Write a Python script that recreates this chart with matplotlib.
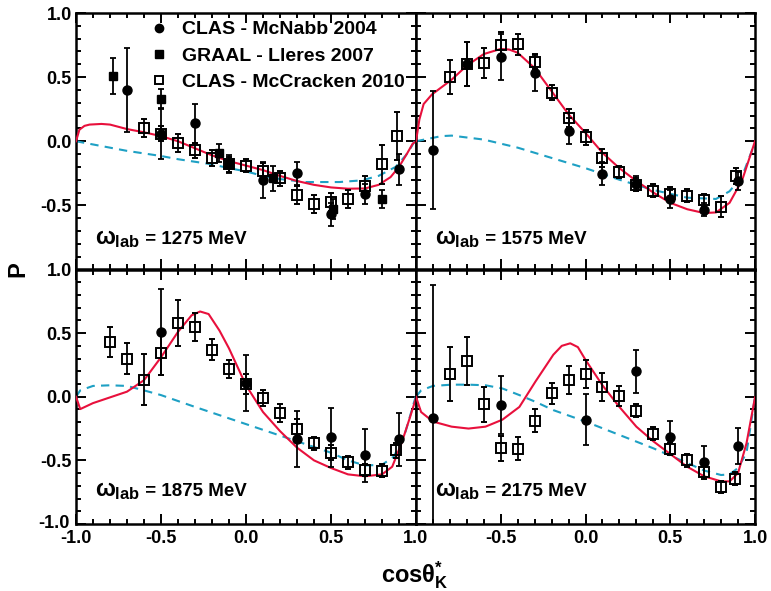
import matplotlib
matplotlib.use("Agg")
import matplotlib.pyplot as plt
from matplotlib.lines import Line2D
from matplotlib.ticker import MultipleLocator, FuncFormatter
from matplotlib.transforms import offset_copy

plt.rcParams['font.family'] = ['Liberation Sans', 'DejaVu Sans']
plt.rcParams['font.weight'] = 'bold'
plt.rcParams['mathtext.fontset'] = 'custom'
plt.rcParams['mathtext.rm'] = 'Liberation Sans:bold'
plt.rcParams['mathtext.bf'] = 'Liberation Sans:bold'
plt.rcParams['mathtext.it'] = 'Liberation Sans:bold'

energies = ["1275", "1575", "1875", "2175"]

# ---------------- 1275 MeV ----------------
mcnabb_1275_x = [-0.7, -0.5, -0.3, 0.1, 0.3, 0.5, 0.7, 0.9]
mcnabb_1275_y = [0.40, 0.06, 0.14, -0.30, -0.25, -0.57, -0.41, -0.22]
mcnabb_1275_e = [0.33, 0.20, 0.15, 0.14, 0.09, 0.09, 0.08, 0.12]

graal_1275_x = [-0.78, -0.5, -0.16, -0.1, 0.16, 0.51, 0.8]
graal_1275_y = [0.51, 0.33, -0.09, -0.18, -0.29, -0.53, -0.45]
graal_1275_e = [0.14, 0.08, 0.07, 0.07, 0.10, 0.08, 0.07]

mccr_1275_x = [-0.6, -0.5, -0.4, -0.3, -0.2, -0.1, 0.0, 0.1, 0.2, 0.3, 0.4, 0.5, 0.6, 0.7, 0.8, 0.89]
mccr_1275_y = [0.10, 0.06, -0.01, -0.07, -0.13, -0.18, -0.19, -0.23, -0.29, -0.42, -0.49, -0.47, -0.45, -0.35, -0.18, 0.04]
mccr_1275_e = [0.07, 0.06, 0.07, 0.06, 0.06, 0.06, 0.05, 0.06, 0.06, 0.07, 0.07, 0.07, 0.07, 0.08, 0.15, 0.19]

red_1275_x = [-1.0, -0.98, -0.95, -0.92, -0.85, -0.8, -0.7, -0.6, -0.5, -0.4, -0.3, -0.2, -0.1, 0.0, 0.1, 0.2,
              0.3, 0.4, 0.5, 0.6, 0.7, 0.78, 0.85, 0.9, 0.95, 0.98, 1.0]
red_1275_y = [0.0, 0.09, 0.12, 0.13, 0.135, 0.13, 0.095, 0.07, 0.04, 0.0, -0.055, -0.11, -0.155, -0.19, -0.225, -0.27,
              -0.31, -0.34, -0.36, -0.37, -0.368, -0.34, -0.28, -0.2, -0.09, -0.02, 0.0]
cyan_1275_x = [-1.0, -0.9, -0.8, -0.7, -0.6, -0.5, -0.4, -0.3, -0.2, -0.1, 0.0, 0.1, 0.2, 0.35, 0.55, 0.68,
               0.78, 0.88, 0.94, 0.97, 1.0]
cyan_1275_y = [0.0, -0.025, -0.05, -0.075, -0.095, -0.115, -0.14, -0.16, -0.18, -0.21, -0.235, -0.27, -0.295,
               -0.318, -0.318, -0.305, -0.27, -0.20, -0.11, -0.05, 0.02]

# ---------------- 1575 MeV ----------------
mcnabb_1575_x = [-0.9, -0.7, -0.5, -0.3, -0.1, 0.1, 0.3, 0.5, 0.7, 0.9]
mcnabb_1575_y = [-0.07, 0.60, 0.66, 0.53, 0.08, -0.255, -0.33, -0.45, -0.535, -0.31]
mcnabb_1575_e = [0.46, 0.17, 0.18, 0.14, 0.10, 0.09, 0.06, 0.07, 0.05, 0.07]

mccr_1575_x = [-0.8, -0.7, -0.6, -0.5, -0.4, -0.3, -0.2, -0.1, 0.0, 0.1, 0.2, 0.3, 0.4, 0.5, 0.6, 0.7, 0.8, 0.89]
mccr_1575_y = [0.50, 0.60, 0.61, 0.75, 0.755, 0.62, 0.38, 0.18, 0.03, -0.13, -0.24, -0.34, -0.385, -0.41, -0.425,
               -0.46, -0.51, -0.27]
mccr_1575_e = [0.13, 0.17, 0.12, 0.10, 0.08, 0.06, 0.06, 0.07, 0.06, 0.07, 0.05, 0.05, 0.05, 0.05, 0.05, 0.05,
               0.08, 0.06]

red_1575_x = [-1.0, -0.98, -0.955, -0.906, -0.79, -0.7, -0.6, -0.5, -0.45, -0.4, -0.3, -0.2, -0.1, 0.0, 0.1, 0.2,
              0.3, 0.4, 0.5, 0.6, 0.7, 0.77, 0.85, 0.925, 1.0]
red_1575_y = [0.0, 0.17, 0.29, 0.365, 0.48, 0.59, 0.68, 0.72, 0.715, 0.69, 0.57, 0.39, 0.21, 0.065, -0.09, -0.21,
              -0.31, -0.40, -0.48, -0.53, -0.56, -0.555, -0.48, -0.30, 0.0]
cyan_1575_x = [-1.0, -0.85, -0.79, -0.6, -0.4, -0.2, 0.0, 0.2, 0.4, 0.6, 0.77, 0.85, 0.925, 1.0]
cyan_1575_y = [0.0, 0.04, 0.044, 0.013, -0.05, -0.13, -0.21, -0.30, -0.38, -0.44, -0.45, -0.39, -0.27, -0.01]

# ---------------- 1875 MeV ----------------
mcnabb_1875_x = [-0.5, 0.0, 0.3, 0.5, 0.7, 0.9]
mcnabb_1875_y = [0.51, 0.11, -0.33, -0.32, -0.46, -0.335]
mcnabb_1875_e = [0.34, 0.22, 0.22, 0.235, 0.21, 0.21]

mccr_1875_x = [-0.8, -0.7, -0.6, -0.5, -0.4, -0.3, -0.2, -0.1, 0.0, 0.1, 0.2, 0.3, 0.4, 0.5, 0.6, 0.7, 0.8, 0.88]
mccr_1875_y = [0.43, 0.30, 0.135, 0.34, 0.58, 0.55, 0.37, 0.22, 0.10, -0.01, -0.125, -0.255, -0.365, -0.44,
               -0.515, -0.575, -0.58, -0.42]
mccr_1875_e = [0.12, 0.12, 0.20, 0.17, 0.18, 0.11, 0.08, 0.07, 0.08, 0.06, 0.07, 0.08, 0.05, 0.06, 0.05, 0.05,
               0.05, 0.06]

red_1875_x = [-1.0, -0.975, -0.9, -0.8, -0.7, -0.6, -0.5, -0.4, -0.32, -0.27, -0.22, -0.156, -0.1, 0.0, 0.1, 0.2,
              0.3, 0.4, 0.5, 0.6, 0.7, 0.8, 0.86, 0.915, 0.965, 1.0]
red_1875_y = [0.0, -0.097, -0.05, -0.005, 0.04, 0.13, 0.31, 0.51, 0.64, 0.67, 0.65, 0.52, 0.38, 0.09, -0.12, -0.27,
              -0.40, -0.50, -0.56, -0.61, -0.625, -0.61, -0.55, -0.365, -0.16, -0.01]
cyan_1875_x = [-1.0, -0.975, -0.9, -0.8, -0.7, -0.6, -0.5, -0.3, -0.1, 0.1, 0.3, 0.5, 0.6, 0.7, 0.8, 0.87,
               0.935, 1.0]
cyan_1875_y = [0.0, 0.05, 0.085, 0.09, 0.085, 0.05, 0.013, -0.08, -0.17, -0.26, -0.35, -0.44, -0.50, -0.54,
               -0.535, -0.47, -0.29, 0.01]

# ---------------- 2175 MeV ----------------
mcnabb_2175_x = [-0.9, -0.5, 0.0, 0.3, 0.5, 0.7, 0.9]
mcnabb_2175_y = [-0.165, -0.065, -0.18, 0.20, -0.32, -0.51, -0.385]
mcnabb_2175_e = [1.04, 0.23, 0.20, 0.17, 0.13, 0.12, 0.14]

mccr_2175_x = [-0.8, -0.7, -0.6, -0.5, -0.4, -0.3, -0.2, -0.1, 0.0, 0.1, 0.2, 0.3, 0.4, 0.5, 0.6, 0.7, 0.8, 0.88]
mccr_2175_y = [0.18, 0.28, -0.06, -0.405, -0.41, -0.19, 0.026, 0.13, 0.18, 0.073, 0.005, -0.11, -0.29, -0.41,
               -0.50, -0.595, -0.71, -0.645]
mccr_2175_e = [0.21, 0.19, 0.14, 0.10, 0.09, 0.09, 0.085, 0.11, 0.11, 0.11, 0.08, 0.05, 0.05, 0.05, 0.05, 0.05,
               0.05, 0.05]

red_2175_x = [-1.0, -0.97, -0.9, -0.79, -0.69, -0.59, -0.49, -0.39, -0.295, -0.19, -0.14, -0.09, -0.045, 0.0,
              0.1, 0.2, 0.3, 0.4, 0.5, 0.6, 0.7, 0.8, 0.85, 0.9, 0.95, 1.0]
red_2175_y = [0.0, -0.12, -0.195, -0.235, -0.25, -0.235, -0.18, -0.08, 0.12, 0.33, 0.40, 0.42, 0.39, 0.29,
              0.09, -0.08, -0.235, -0.35, -0.45, -0.55, -0.625, -0.665, -0.665, -0.60, -0.365, -0.005]
cyan_2175_x = [-1.0, -0.97, -0.9, -0.79, -0.69, -0.59, -0.49, -0.39, -0.295, -0.19, 0.0, 0.2, 0.4, 0.6, 0.7,
               0.8, 0.85, 0.9, 0.95, 1.0]
cyan_2175_y = [0.0, 0.05, 0.085, 0.095, 0.095, 0.09, 0.065, 0.013, -0.04, -0.105, -0.195, -0.30, -0.405, -0.52,
               -0.58, -0.615, -0.61, -0.56, -0.44, 0.0]

panels = [
    dict(e="1275", mcn=(mcnabb_1275_x, mcnabb_1275_y, mcnabb_1275_e),
         gr=(graal_1275_x, graal_1275_y, graal_1275_e),
         mcc=(mccr_1275_x, mccr_1275_y, mccr_1275_e),
         red=(red_1275_x, red_1275_y), cyan=(cyan_1275_x, cyan_1275_y)),
    dict(e="1575", mcn=(mcnabb_1575_x, mcnabb_1575_y, mcnabb_1575_e), gr=None,
         mcc=(mccr_1575_x, mccr_1575_y, mccr_1575_e),
         red=(red_1575_x, red_1575_y), cyan=(cyan_1575_x, cyan_1575_y)),
    dict(e="1875", mcn=(mcnabb_1875_x, mcnabb_1875_y, mcnabb_1875_e), gr=None,
         mcc=(mccr_1875_x, mccr_1875_y, mccr_1875_e),
         red=(red_1875_x, red_1875_y), cyan=(cyan_1875_x, cyan_1875_y)),
    dict(e="2175", mcn=(mcnabb_2175_x, mcnabb_2175_y, mcnabb_2175_e), gr=None,
         mcc=(mccr_2175_x, mccr_2175_y, mccr_2175_e),
         red=(red_2175_x, red_2175_y), cyan=(cyan_2175_x, cyan_2175_y)),
]

RED = '#e8103c'
CYAN = '#1ea0c4'

W, H = 771, 591
fig = plt.figure(figsize=(W / 100, H / 100), dpi=100)

xl = [76 / W, 416 / W]
xw = [340 / W, 339 / W]
yb = [1 - 269.5 / H, 1 - 524 / H]
yh = [256.5 / H, 254.5 / H]

fmt = FuncFormatter(lambda v, p: f"{v:.1f}".replace("\u2212", "-") if abs(v) > 1e-9 else "0.0")

axes = []
omega_texts = []
for i, pdat in enumerate(panels):
    r, c = divmod(i, 2)
    ax = fig.add_axes([xl[c], yb[r], xw[c], yh[r]])
    axes.append(ax)
    ax.set_xlim(-1, 1)
    ax.set_ylim(-1, 1)

    ax.plot(*pdat['cyan'], color=CYAN, lw=1.5, ls=(0, (4, 3)), zorder=2)
    ax.plot(*pdat['red'], color=RED, lw=1.5, zorder=3)

    ebkw = dict(ecolor='black', elinewidth=1.3, capsize=2, capthick=1.3, ls='none', zorder=4)
    mx, my, me = pdat['mcn']
    ax.errorbar(mx, my, yerr=me, fmt='o', mfc='black', mec='black', ms=6.5, **ebkw)
    if pdat['gr'] is not None:
        gx, gy, ge = pdat['gr']
        ax.errorbar(gx, gy, yerr=ge, fmt='s', mfc='black', mec='black', ms=6, **ebkw)
    cx, cy, ce = pdat['mcc']
    ax.errorbar(cx, cy, yerr=ce, fmt='s', mfc='none', mec='black', mew=1.4, ms=6.5, **ebkw)

    ax.xaxis.set_major_locator(MultipleLocator(0.5))
    ax.xaxis.set_minor_locator(MultipleLocator(0.1))
    ax.yaxis.set_major_locator(MultipleLocator(0.5))
    ax.yaxis.set_minor_locator(MultipleLocator(0.1))
    ax.tick_params(which='both', direction='in', top=True, right=True, width=1.4)
    ax.tick_params(which='major', length=7)
    ax.tick_params(which='minor', length=3.6)
    ax.tick_params(axis='both', labelsize=13)
    ax.tick_params(axis='x', pad=4.5)
    ax.tick_params(axis='y', pad=3)
    for sp in ax.spines.values():
        sp.set_linewidth(1.8)

    ax.xaxis.set_major_formatter(fmt)
    ax.yaxis.set_major_formatter(fmt)
    if r == 0:
        ax.tick_params(labelbottom=False)
    if c == 1:
        ax.tick_params(labelleft=False)
    for lab in ax.get_xticklabels() + ax.get_yticklabels():
        lab.set_fontweight('bold')

    ty = 0.10 if r == 0 else 0.11
    t1 = ax.text(0.056, ty, r'$\omega_{lab}$', transform=ax.transAxes, fontsize=17,
                 va='baseline', ha='left')
    omega_texts.append((ax, t1, ty, pdat["e"]))

fig.canvas.draw()
renderer = fig.canvas.get_renderer()
for ax, t1, ty, e in omega_texts:
    bb = t1.get_window_extent(renderer)
    x_axes = ax.transAxes.inverted().transform((bb.x1, 0))[0]
    ax.text(x_axes, ty, f' = {e} MeV', transform=ax.transAxes, fontsize=13.5,
            fontweight='bold', va='baseline', ha='left')

# hide specific tick labels
for lab in axes[0].get_yticklabels():
    if lab.get_text() == "-1.0":
        lab.set_visible(False)
for lab in axes[3].get_xticklabels():
    if lab.get_text() == "-1.0":
        lab.set_visible(False)
for lab in axes[2].get_yticklabels():
    if lab.get_text() == "-1.0":
        lab.set_transform(offset_copy(lab.get_transform(), fig=fig, x=-2, y=3, units='dots'))

handles = [
    Line2D([], [], marker='o', color='black', ls='none', ms=6),
    Line2D([], [], marker='s', color='black', ls='none', ms=5.5),
    Line2D([], [], marker='s', mfc='none', mec='black', mew=1.4, ls='none', ms=6),
]
labels = ["CLAS - McNabb 2004", "GRAAL - Lleres 2007", "CLAS - McCracken 2010"]
axes[0].legend(handles, labels, loc='upper left', bbox_to_anchor=(0.215, 0.97), frameon=False,
               prop=dict(size=14, weight='bold'), handlelength=1.0, handletextpad=0.7,
               labelspacing=0.45, borderpad=0, borderaxespad=0)

fig.text(18 / W, 1 - 269 / H, 'P', rotation=90, fontsize=17, fontweight='bold', ha='center', va='center')
fig.text(415 / W, 1 - 575 / H, r'$\mathrm{cos\theta}^{*}_{K}$', fontsize=17, ha='center', va='center')

fig.savefig('out.png', dpi=100)
